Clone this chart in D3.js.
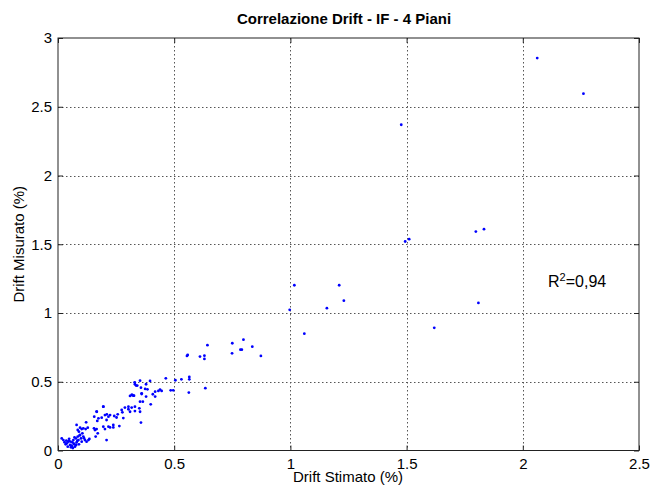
<!DOCTYPE html>
<html>
<head>
<meta charset="utf-8">
<script src="https://cdn.jsdelivr.net/npm/d3@7"></script>
<style>
  html, body { margin: 0; padding: 0; background: #fff; }
  svg { display: block; font-family: "Liberation Sans", Arial, sans-serif; }
</style>
</head>
<body>
<svg id="chart" width="651" height="487"></svg>
<script>
// Drift stimato (x, %) e drift misurato (y, %) per ciascun caso analizzato
const driftStimato = [
  2.062, 2.261, 1.477, 1.494, 1.511, 1.798, 1.833, 1.809, 1.619,
  1.017, 1.210, 1.230, 1.157, 0.997, 1.060,
  0.750, 0.798, 0.836, 0.749, 0.785, 0.791, 0.873,
  0.643, 0.558, 0.555, 0.611, 0.630, 0.630, 0.634, 0.563,
  0.464, 0.505, 0.531, 0.565, 0.565, 0.485, 0.496,
  0.353, 0.396, 0.379, 0.336, 0.330, 0.331, 0.341, 0.357, 0.360,
  0.439, 0.446, 0.432, 0.418, 0.375, 0.385, 0.319, 0.327, 0.379, 0.408, 0.418,
  0.360, 0.317, 0.324, 0.310, 0.353, 0.365, 0.399,
  0.288, 0.303, 0.317, 0.331, 0.303, 0.310, 0.274, 0.277, 0.331, 0.350, 0.353,
  0.195, 0.167, 0.210, 0.257, 0.264, 0.281, 0.252, 0.242, 0.238, 0.224,
  0.166, 0.156, 0.169, 0.174, 0.188, 0.195, 0.202, 0.209, 0.217, 0.224,
  0.195, 0.202, 0.217, 0.209, 0.238, 0.155, 0.159, 0.166, 0.171, 0.162, 0.357,
  0.080, 0.085, 0.090, 0.095, 0.102, 0.109, 0.119, 0.128, 0.121,
  0.016, 0.023, 0.033, 0.044, 0.052, 0.056, 0.062, 0.066, 0.070, 0.073,
  0.077, 0.080, 0.085, 0.088, 0.090, 0.095, 0.099, 0.102, 0.105, 0.109,
  0.116, 0.123, 0.131, 0.135, 0.028, 0.038, 0.047, 0.058, 0.068, 0.078,
  0.048, 0.060, 0.071, 0.083, 0.064, 0.054, 0.042, 0.093, 0.112, 0.036
];
const driftMisurato = [
  2.854, 2.595, 2.369, 1.520, 1.537, 1.592, 1.610, 1.073, 0.892,
  1.202, 1.202, 1.090, 1.035, 1.023, 0.850,
  0.780, 0.806, 0.755, 0.707, 0.733, 0.733, 0.688,
  0.766, 0.695, 0.688, 0.683, 0.690, 0.666, 0.453, 0.421,
  0.525, 0.511, 0.518, 0.535, 0.518, 0.438, 0.438,
  0.508, 0.506, 0.482, 0.472, 0.496, 0.482, 0.472, 0.457, 0.416,
  0.443, 0.433, 0.433, 0.428, 0.448, 0.445, 0.404, 0.399, 0.392, 0.409, 0.392,
  0.411, 0.404, 0.399, 0.397, 0.355, 0.355, 0.336,
  0.312, 0.319, 0.312, 0.319, 0.300, 0.282, 0.295, 0.278, 0.287, 0.307, 0.282,
  0.319, 0.282, 0.263, 0.263, 0.178, 0.236, 0.240, 0.251, 0.168, 0.258,
  0.283, 0.246, 0.215, 0.234, 0.239, 0.173, 0.258, 0.222, 0.246, 0.168,
  0.319, 0.156, 0.173, 0.076, 0.186, 0.161, 0.149, 0.156, 0.125, 0.101, 0.203,
  0.186, 0.149, 0.137, 0.166, 0.156, 0.161, 0.156, 0.166, 0.205,
  0.088, 0.076, 0.045, 0.064, 0.040, 0.023, 0.059, 0.076, 0.045, 0.028,
  0.088, 0.059, 0.101, 0.076, 0.045, 0.113, 0.088, 0.064, 0.125, 0.101,
  0.076, 0.064, 0.076, 0.084, 0.060, 0.052, 0.070, 0.035, 0.050, 0.040,
  0.085, 0.030, 0.095, 0.070, 0.018, 0.065, 0.028, 0.110, 0.090, 0.072
];

const xTicks = [0, 0.5, 1, 1.5, 2, 2.5];
const yTicks = [0, 0.5, 1, 1.5, 2, 2.5, 3];
const xTickLabels = ["0", "0.5", "1", "1.5", "2", "2.5"];
const yTickLabels = ["0", "0.5", "1", "1.5", "2", "2.5", "3"];

const titleText = "Correlazione Drift - IF - 4 Piani";
const xLabelText = "Drift Stimato (%)";
const yLabelText = "Drift Misurato (%)";
const r2Value = "0,94";

const svg = d3.select("#chart");
const plotLeft = 58, plotRight = 639, plotTop = 38, plotBottom = 450.5;

const x = d3.scaleLinear().domain([0, 2.5]).range([plotLeft, plotRight]);
const y = d3.scaleLinear().domain([0, 3]).range([plotBottom, plotTop]);

// dotted grid
const grid = svg.append("g").attr("stroke", "#555").attr("stroke-width", 1)
  .attr("stroke-dasharray", "1.5,2.5").attr("fill", "none");
grid.selectAll("line.v").data(xTicks.slice(1, -1)).join("line")
  .attr("x1", d => Math.round(x(d)) + 0.5).attr("x2", d => Math.round(x(d)) + 0.5)
  .attr("y1", plotTop).attr("y2", plotBottom);
grid.selectAll("line.h").data(yTicks.slice(1, -1)).join("line")
  .attr("y1", d => Math.round(y(d)) + 0.5).attr("y2", d => Math.round(y(d)) + 0.5)
  .attr("x1", plotLeft).attr("x2", plotRight);

// axes with inward ticks on all four sides
const fmtX = (d, i) => xTickLabels[i];
const fmtY = (d, i) => yTickLabels[i];
const axB = svg.append("g").attr("transform", `translate(0,${plotBottom})`)
  .call(d3.axisBottom(x).tickValues(xTicks).tickFormat(fmtX).tickSizeInner(-5).tickSizeOuter(0).tickPadding(8));
const axT = svg.append("g").attr("transform", `translate(0,${plotTop})`)
  .call(d3.axisTop(x).tickValues(xTicks).tickFormat("").tickSizeInner(-5).tickSizeOuter(0));
const axL = svg.append("g").attr("transform", `translate(${plotLeft},0)`)
  .call(d3.axisLeft(y).tickValues(yTicks).tickFormat(fmtY).tickSizeInner(-5).tickSizeOuter(0).tickPadding(6));
const axR = svg.append("g").attr("transform", `translate(${plotRight},0)`)
  .call(d3.axisRight(y).tickValues(yTicks).tickFormat("").tickSizeInner(-5).tickSizeOuter(0));
[axB, axT, axL, axR].forEach(a => {
  a.select(".domain").remove();
  a.selectAll("line").attr("stroke", "#222");
  a.selectAll("text").attr("font-size", 15).attr("fill", "#000")
    .attr("font-family", "'Liberation Sans', Arial, sans-serif");
});
svg.append("rect").attr("x", plotLeft).attr("y", plotTop)
  .attr("width", plotRight - plotLeft).attr("height", plotBottom - plotTop)
  .attr("fill", "none").attr("stroke", "#222").attr("stroke-width", 1);

// points
svg.append("g").selectAll("circle").data(driftStimato.map((d, i) => [d, driftMisurato[i]]))
  .join("circle")
  .attr("cx", d => x(d[0])).attr("cy", d => y(d[1]))
  .attr("r", 1.4).attr("fill", "#0000ff");

// title and axis labels
svg.append("text").attr("x", 344).attr("y", 24).attr("text-anchor", "middle")
  .attr("font-weight", "bold").attr("font-size", 15).text(titleText);
svg.append("text").attr("x", 348).attr("y", 482).attr("text-anchor", "middle")
  .attr("font-size", 15).text(xLabelText);
svg.append("text").attr("transform", `translate(24,${(plotTop + plotBottom) / 2}) rotate(-90)`)
  .attr("text-anchor", "middle").attr("font-size", 15).text(yLabelText);

// coefficient of determination
const r2 = svg.append("text").attr("x", 548).attr("y", 287).attr("font-size", 16);
r2.append("tspan").text("R");
r2.append("tspan").attr("font-size", 11).attr("dy", -6).text("2");
r2.append("tspan").attr("dy", 6).text("=" + r2Value);
</script>
</body>
</html>
